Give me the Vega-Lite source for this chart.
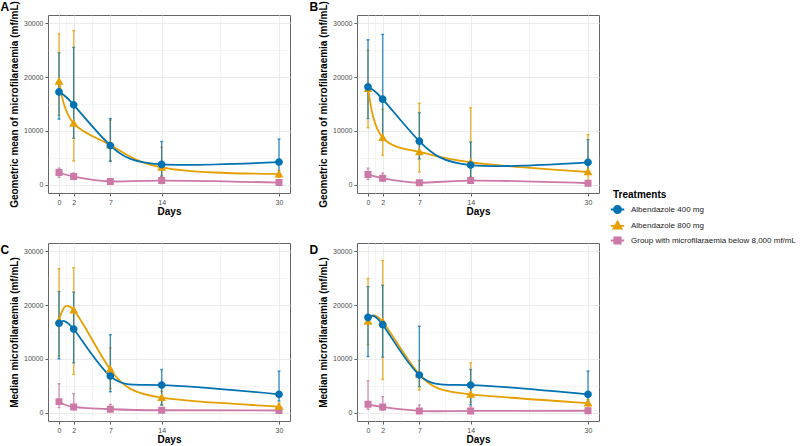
{
  "$schema": "https://vega.github.io/schema/vega-lite/v6.json",
  "background": "white",
  "padding": {"left": 0, "top": 0, "right": 0, "bottom": 0},
  "bounds": "flush",
  "config": {
    "font": "Liberation Sans",
    "view": {"stroke": "#666666", "strokeWidth": 1},
    "axis": {
      "domain": false,
      "labelFontSize": 7,
      "labelColor": "#4d4d4d",
      "labelPadding": 2,
      "labelFlush": false,
      "labelOverlap": false,
      "titleFontSize": 10,
      "titleFontWeight": "bold",
      "titleColor": "#000000",
      "titlePadding": 4,
      "tickColor": "#333333",
      "tickSize": 3,
      "tickWidth": 0.8,
      "gridColor": "#ebebeb"
    },
    "axisX": {"titlePadding": 1},
    "title": {"fontSize": 12, "fontWeight": "bold", "anchor": "start", "frame": "bounds", "baseline": "alphabetic", "dx": -9, "offset": -13.5, "color": "#000000"},
    "legend": {"titleFontSize": 10, "titleFontWeight": "bold", "titleColor": "#000000", "labelFontSize": 8, "labelColor": "#1a1a1a", "labelLimit": 300}
  },
  "datasets": {
    "mf": [
      {"panel": "A", "grp": "Group with microfilaraemia below 8,000 mf/mL", "day": 0, "val": 2300, "lo": 1400, "hi": 3100},
      {"panel": "A", "grp": "Group with microfilaraemia below 8,000 mf/mL", "day": 2, "val": 1550, "lo": 1000, "hi": 2200},
      {"panel": "A", "grp": "Group with microfilaraemia below 8,000 mf/mL", "day": 7, "val": 650, "lo": 400, "hi": 1000},
      {"panel": "A", "grp": "Group with microfilaraemia below 8,000 mf/mL", "day": 14, "val": 800, "lo": 250, "hi": 1600},
      {"panel": "A", "grp": "Group with microfilaraemia below 8,000 mf/mL", "day": 30, "val": 430, "lo": 200, "hi": 800},
      {"panel": "B", "grp": "Group with microfilaraemia below 8,000 mf/mL", "day": 0, "val": 1950, "lo": 1000, "hi": 3100},
      {"panel": "B", "grp": "Group with microfilaraemia below 8,000 mf/mL", "day": 2, "val": 1250, "lo": 700, "hi": 2200},
      {"panel": "B", "grp": "Group with microfilaraemia below 8,000 mf/mL", "day": 7, "val": 400, "lo": 200, "hi": 800},
      {"panel": "B", "grp": "Group with microfilaraemia below 8,000 mf/mL", "day": 14, "val": 800, "lo": 300, "hi": 1400},
      {"panel": "B", "grp": "Group with microfilaraemia below 8,000 mf/mL", "day": 30, "val": 310, "lo": 100, "hi": 600},
      {"panel": "C", "grp": "Group with microfilaraemia below 8,000 mf/mL", "day": 0, "val": 2090, "lo": 980, "hi": 5410},
      {"panel": "C", "grp": "Group with microfilaraemia below 8,000 mf/mL", "day": 2, "val": 1100, "lo": 600, "hi": 3570},
      {"panel": "C", "grp": "Group with microfilaraemia below 8,000 mf/mL", "day": 7, "val": 680, "lo": 300, "hi": 1600},
      {"panel": "C", "grp": "Group with microfilaraemia below 8,000 mf/mL", "day": 14, "val": 490, "lo": 200, "hi": 900},
      {"panel": "C", "grp": "Group with microfilaraemia below 8,000 mf/mL", "day": 30, "val": 450, "lo": 200, "hi": 700},
      {"panel": "D", "grp": "Group with microfilaraemia below 8,000 mf/mL", "day": 0, "val": 1600, "lo": 680, "hi": 5960},
      {"panel": "D", "grp": "Group with microfilaraemia below 8,000 mf/mL", "day": 2, "val": 1100, "lo": 500, "hi": 3000},
      {"panel": "D", "grp": "Group with microfilaraemia below 8,000 mf/mL", "day": 7, "val": 370, "lo": 150, "hi": 1480},
      {"panel": "D", "grp": "Group with microfilaraemia below 8,000 mf/mL", "day": 14, "val": 370, "lo": 150, "hi": 1170},
      {"panel": "D", "grp": "Group with microfilaraemia below 8,000 mf/mL", "day": 30, "val": 400, "lo": 150, "hi": 800},

      {"panel": "A", "grp": "Albendazole 800 mg", "day": 0, "val": 19200, "lo": 12900, "hi": 28000},
      {"panel": "A", "grp": "Albendazole 800 mg", "day": 2, "val": 11400, "lo": 4450, "hi": 28600},
      {"panel": "A", "grp": "Albendazole 800 mg", "day": 7, "val": 7400, "lo": 4500, "hi": 12000},
      {"panel": "A", "grp": "Albendazole 800 mg", "day": 14, "val": 3250, "lo": 1400, "hi": 7000},
      {"panel": "A", "grp": "Albendazole 800 mg", "day": 30, "val": 2000, "lo": 1400, "hi": 2700},
      {"panel": "B", "grp": "Albendazole 800 mg", "day": 0, "val": 17850, "lo": 10600, "hi": 25000},
      {"panel": "B", "grp": "Albendazole 800 mg", "day": 2, "val": 8770, "lo": 5500, "hi": 14000},
      {"panel": "B", "grp": "Albendazole 800 mg", "day": 7, "val": 6130, "lo": 2400, "hi": 15150},
      {"panel": "B", "grp": "Albendazole 800 mg", "day": 14, "val": 4170, "lo": 1500, "hi": 14300},
      {"panel": "B", "grp": "Albendazole 800 mg", "day": 30, "val": 2390, "lo": 800, "hi": 9330},
      {"panel": "C", "grp": "Albendazole 800 mg", "day": 0, "val": 17090, "lo": 10500, "hi": 26740},
      {"panel": "C", "grp": "Albendazole 800 mg", "day": 2, "val": 19060, "lo": 7130, "hi": 26930},
      {"panel": "C", "grp": "Albendazole 800 mg", "day": 7, "val": 8050, "lo": 4500, "hi": 12050},
      {"panel": "C", "grp": "Albendazole 800 mg", "day": 14, "val": 2830, "lo": 1500, "hi": 4000},
      {"panel": "C", "grp": "Albendazole 800 mg", "day": 30, "val": 1180, "lo": 600, "hi": 1800},
      {"panel": "D", "grp": "Albendazole 800 mg", "day": 0, "val": 16970, "lo": 12660, "hi": 24900},
      {"panel": "D", "grp": "Albendazole 800 mg", "day": 2, "val": 16900, "lo": 6210, "hi": 28220},
      {"panel": "D", "grp": "Albendazole 800 mg", "day": 7, "val": 7130, "lo": 4240, "hi": 9710},
      {"panel": "D", "grp": "Albendazole 800 mg", "day": 14, "val": 3440, "lo": 2000, "hi": 9280},
      {"panel": "D", "grp": "Albendazole 800 mg", "day": 30, "val": 1800, "lo": 900, "hi": 2500},

      {"panel": "A", "grp": "Albendazole 400 mg", "day": 0, "val": 17240, "lo": 12200, "hi": 24500},
      {"panel": "A", "grp": "Albendazole 400 mg", "day": 2, "val": 14850, "lo": 8650, "hi": 25500},
      {"panel": "A", "grp": "Albendazole 400 mg", "day": 7, "val": 7300, "lo": 4350, "hi": 12300},
      {"panel": "A", "grp": "Albendazole 400 mg", "day": 14, "val": 3800, "lo": 1600, "hi": 8050},
      {"panel": "A", "grp": "Albendazole 400 mg", "day": 30, "val": 4230, "lo": 2150, "hi": 8500},
      {"panel": "B", "grp": "Albendazole 400 mg", "day": 0, "val": 18160, "lo": 12300, "hi": 26900},
      {"panel": "B", "grp": "Albendazole 400 mg", "day": 2, "val": 15900, "lo": 8700, "hi": 27900},
      {"panel": "B", "grp": "Albendazole 400 mg", "day": 7, "val": 8100, "lo": 4800, "hi": 13400},
      {"panel": "B", "grp": "Albendazole 400 mg", "day": 14, "val": 3680, "lo": 1000, "hi": 7970},
      {"panel": "B", "grp": "Albendazole 400 mg", "day": 30, "val": 4180, "lo": 2000, "hi": 8400},
      {"panel": "C", "grp": "Albendazole 400 mg", "day": 0, "val": 16600, "lo": 10020, "hi": 22500},
      {"panel": "C", "grp": "Albendazole 400 mg", "day": 2, "val": 15550, "lo": 9280, "hi": 22380},
      {"panel": "C", "grp": "Albendazole 400 mg", "day": 7, "val": 6820, "lo": 3930, "hi": 14500},
      {"panel": "C", "grp": "Albendazole 400 mg", "day": 14, "val": 5160, "lo": 1475, "hi": 8050},
      {"panel": "C", "grp": "Albendazole 400 mg", "day": 30, "val": 3450, "lo": 2200, "hi": 7750},
      {"panel": "D", "grp": "Albendazole 400 mg", "day": 0, "val": 17700, "lo": 10450, "hi": 23420},
      {"panel": "D", "grp": "Albendazole 400 mg", "day": 2, "val": 16350, "lo": 10330, "hi": 23670},
      {"panel": "D", "grp": "Albendazole 400 mg", "day": 7, "val": 7010, "lo": 4860, "hi": 16050},
      {"panel": "D", "grp": "Albendazole 400 mg", "day": 14, "val": 5160, "lo": 1475, "hi": 8050},
      {"panel": "D", "grp": "Albendazole 400 mg", "day": 30, "val": 3450, "lo": 2200, "hi": 7750}
    ]
  },
  "data": {"name": "mf"},
  "columns": 2,
  "spacing": {"row": 50, "column": 67},
  "resolve": {"scale": {"color": "shared", "shape": "shared"}},
  "concat": [
    {
      "title": {"text": "A"},
      "width": 242, "height": 178,
      "transform": [{"filter": "datum.panel === 'A'"}],
      "encoding": {
        "x": {"field": "day", "type": "quantitative", "title": "Days",
          "scale": {"domain": [-1.5, 31.5], "nice": false, "zero": false},
          "axis": {"values": [0, 1, 2, 4.5, 7, 10.5, 14, 22, 30],
            "labelExpr": "indexof([0, 2, 7, 14, 30], datum.value) >= 0 ? datum.label : ''",
            "tickOpacity": {"condition": {"test": "indexof([0, 2, 7, 14, 30], datum.value) < 0", "value": 0}, "value": 1},
            "gridWidth": {"condition": {"test": "indexof([0, 2, 7, 14, 30], datum.value) < 0", "value": 0.5}, "value": 1}}},
        "y": {"field": "val", "type": "quantitative", "title": "Geometric mean of microfilaraemia (mf/mL)",
          "scale": {"domain": [-1500, 31500], "nice": false, "zero": false},
          "axis": {"values": [0, 5000, 10000, 15000, 20000, 25000, 30000], "format": "d",
            "labelExpr": "datum.value % 10000 == 0 ? datum.label : ''",
            "tickOpacity": {"condition": {"test": "datum.value % 10000 != 0", "value": 0}, "value": 1},
            "gridWidth": {"condition": {"test": "datum.value % 10000 != 0", "value": 0.5}, "value": 1}}},
        "color": {"field": "grp", "type": "nominal", "title": "Treatments",
          "scale": {"domain": ["Albendazole 400 mg", "Albendazole 800 mg", "Group with microfilaraemia below 8,000 mf/mL"], "range": ["#0072B2", "#E69F00", "#CC79A7"]},
          "legend": {"orient": "none", "legendX": 565, "legendY": 175, "symbolSize": 50, "rowPadding": 0, "titlePadding": 5, "labelOffset": 9,
            "encode": {"symbols": {"update": {"fill": {"scale": "color", "field": "value"}, "stroke": {"scale": "color", "field": "value"}, "strokeWidth": {"value": 1.8}, "opacity": {"value": 1}}}}}}
      },
      "layer": [
        {"mark": {"type": "errorbar", "ticks": {"size": 3}, "thickness": 1.4, "opacity": 0.75},
         "encoding": {"y": {"field": "lo", "type": "quantitative", "title": "Geometric mean of microfilaraemia (mf/mL)"}, "y2": {"field": "hi"}}},
        {"mark": {"type": "line", "interpolate": "natural", "strokeWidth": 1.8}},
        {"mark": {"type": "point", "filled": true, "opacity": 1, "size": 60},
         "encoding": {"shape": {"field": "grp", "type": "nominal", "title": "Treatments",
           "scale": {"domain": ["Albendazole 400 mg", "Albendazole 800 mg", "Group with microfilaraemia below 8,000 mf/mL"],
             "range": ["M-1,0A1,1,0,1,1,1,0A1,1,0,1,1,-1,0ZM-1.9,0H1.9", "M0,-1.15L1.15,0.85L-1.15,0.85ZM-1.9,0.1H1.9", "M-0.9,-0.9H0.9V0.9H-0.9ZM-1.9,0H1.9"]}}}}
      ]
    },
    {
      "title": {"text": "B"},
      "width": 242, "height": 178,
      "transform": [{"filter": "datum.panel === 'B'"}],
      "encoding": {
        "x": {"field": "day", "type": "quantitative", "title": "Days",
          "scale": {"domain": [-1.5, 31.5], "nice": false, "zero": false},
          "axis": {"values": [0, 1, 2, 4.5, 7, 10.5, 14, 22, 30],
            "labelExpr": "indexof([0, 2, 7, 14, 30], datum.value) >= 0 ? datum.label : ''",
            "tickOpacity": {"condition": {"test": "indexof([0, 2, 7, 14, 30], datum.value) < 0", "value": 0}, "value": 1},
            "gridWidth": {"condition": {"test": "indexof([0, 2, 7, 14, 30], datum.value) < 0", "value": 0.5}, "value": 1}}},
        "y": {"field": "val", "type": "quantitative", "title": "Geometric mean of microfilaraemia (mf/mL)",
          "scale": {"domain": [-1500, 31500], "nice": false, "zero": false},
          "axis": {"values": [0, 5000, 10000, 15000, 20000, 25000, 30000], "format": "d",
            "labelExpr": "datum.value % 10000 == 0 ? datum.label : ''",
            "tickOpacity": {"condition": {"test": "datum.value % 10000 != 0", "value": 0}, "value": 1},
            "gridWidth": {"condition": {"test": "datum.value % 10000 != 0", "value": 0.5}, "value": 1}}},
        "color": {"field": "grp", "type": "nominal", "title": "Treatments"}
      },
      "layer": [
        {"mark": {"type": "errorbar", "ticks": {"size": 3}, "thickness": 1.4, "opacity": 0.75},
         "encoding": {"y": {"field": "lo", "type": "quantitative", "title": "Geometric mean of microfilaraemia (mf/mL)"}, "y2": {"field": "hi"}}},
        {"mark": {"type": "line", "interpolate": "natural", "strokeWidth": 1.8}},
        {"mark": {"type": "point", "filled": true, "opacity": 1, "size": 60},
         "encoding": {"shape": {"field": "grp", "type": "nominal", "title": "Treatments"}}}
      ]
    },
    {
      "title": {"text": "C"},
      "width": 242, "height": 178,
      "transform": [{"filter": "datum.panel === 'C'"}],
      "encoding": {
        "x": {"field": "day", "type": "quantitative", "title": "Days",
          "scale": {"domain": [-1.5, 31.5], "nice": false, "zero": false},
          "axis": {"values": [0, 1, 2, 4.5, 7, 10.5, 14, 22, 30],
            "labelExpr": "indexof([0, 2, 7, 14, 30], datum.value) >= 0 ? datum.label : ''",
            "tickOpacity": {"condition": {"test": "indexof([0, 2, 7, 14, 30], datum.value) < 0", "value": 0}, "value": 1},
            "gridWidth": {"condition": {"test": "indexof([0, 2, 7, 14, 30], datum.value) < 0", "value": 0.5}, "value": 1}}},
        "y": {"field": "val", "type": "quantitative", "title": "Median microfilaraemia (mf/mL)",
          "scale": {"domain": [-1500, 31500], "nice": false, "zero": false},
          "axis": {"values": [0, 5000, 10000, 15000, 20000, 25000, 30000], "format": "d",
            "labelExpr": "datum.value % 10000 == 0 ? datum.label : ''",
            "tickOpacity": {"condition": {"test": "datum.value % 10000 != 0", "value": 0}, "value": 1},
            "gridWidth": {"condition": {"test": "datum.value % 10000 != 0", "value": 0.5}, "value": 1}}},
        "color": {"field": "grp", "type": "nominal", "title": "Treatments"}
      },
      "layer": [
        {"mark": {"type": "errorbar", "ticks": {"size": 3}, "thickness": 1.4, "opacity": 0.75},
         "encoding": {"y": {"field": "lo", "type": "quantitative", "title": "Median microfilaraemia (mf/mL)"}, "y2": {"field": "hi"}}},
        {"mark": {"type": "line", "interpolate": "natural", "strokeWidth": 1.8}},
        {"mark": {"type": "point", "filled": true, "opacity": 1, "size": 60},
         "encoding": {"shape": {"field": "grp", "type": "nominal", "title": "Treatments"}}}
      ]
    },
    {
      "title": {"text": "D"},
      "width": 242, "height": 178,
      "transform": [{"filter": "datum.panel === 'D'"}],
      "encoding": {
        "x": {"field": "day", "type": "quantitative", "title": "Days",
          "scale": {"domain": [-1.5, 31.5], "nice": false, "zero": false},
          "axis": {"values": [0, 1, 2, 4.5, 7, 10.5, 14, 22, 30],
            "labelExpr": "indexof([0, 2, 7, 14, 30], datum.value) >= 0 ? datum.label : ''",
            "tickOpacity": {"condition": {"test": "indexof([0, 2, 7, 14, 30], datum.value) < 0", "value": 0}, "value": 1},
            "gridWidth": {"condition": {"test": "indexof([0, 2, 7, 14, 30], datum.value) < 0", "value": 0.5}, "value": 1}}},
        "y": {"field": "val", "type": "quantitative", "title": "Median microfilaraemia (mf/mL)",
          "scale": {"domain": [-1500, 31500], "nice": false, "zero": false},
          "axis": {"values": [0, 5000, 10000, 15000, 20000, 25000, 30000], "format": "d",
            "labelExpr": "datum.value % 10000 == 0 ? datum.label : ''",
            "tickOpacity": {"condition": {"test": "datum.value % 10000 != 0", "value": 0}, "value": 1},
            "gridWidth": {"condition": {"test": "datum.value % 10000 != 0", "value": 0.5}, "value": 1}}},
        "color": {"field": "grp", "type": "nominal", "title": "Treatments"}
      },
      "layer": [
        {"mark": {"type": "errorbar", "ticks": {"size": 3}, "thickness": 1.4, "opacity": 0.75},
         "encoding": {"y": {"field": "lo", "type": "quantitative", "title": "Median microfilaraemia (mf/mL)"}, "y2": {"field": "hi"}}},
        {"mark": {"type": "line", "interpolate": "natural", "strokeWidth": 1.8}},
        {"mark": {"type": "point", "filled": true, "opacity": 1, "size": 60},
         "encoding": {"shape": {"field": "grp", "type": "nominal", "title": "Treatments"}}}
      ]
    }
  ]
}
